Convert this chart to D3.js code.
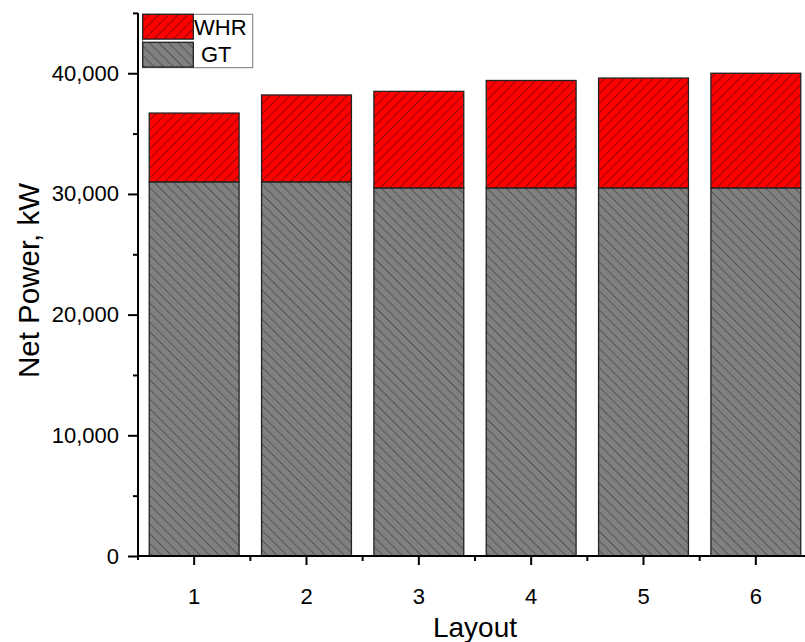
<!DOCTYPE html>
<html>
<head>
<meta charset="utf-8">
<script src="https://cdn.jsdelivr.net/npm/d3@7"></script>
<style>
  html, body { margin: 0; padding: 0; background: #fff; }
  svg { display: block; font-family: "Liberation Sans", Arial, sans-serif; }
</style>
</head>
<body>
<svg id="chart" width="805" height="642"></svg>
<script>
// Net power split per layout: gas turbine (GT) plus waste heat recovery (WHR), kW
const layouts = ["1", "2", "3", "4", "5", "6"];
const gtPower = [31000, 31000, 30500, 30500, 30500, 30500];
const whrPower = [5700, 7200, 8000, 8900, 9100, 9500];
const seriesNames = ["GT", "WHR"];
const yMajorTicks = [0, 10000, 20000, 30000, 40000];
const yMinorTicks = [5000, 15000, 25000, 35000, 45000];

const svg = d3.select("#chart");
const plotLeft = 138, plotRight = 812, plotTop = 12.9, plotBottom = 556;

const x = d3.scaleBand().domain(layouts).range([plotLeft, plotRight])
  .paddingInner(0.2).paddingOuter(0.1);
const y = d3.scaleLinear().domain([0, 45000]).range([plotBottom, plotTop]);

// hatch fills
const defs = svg.append("defs");
function hatch(id, fill, lineColor, dir) {
  const s = 6.8;
  const p = defs.append("pattern").attr("id", id)
    .attr("patternUnits", "userSpaceOnUse")
    .attr("width", s).attr("height", s)
    .attr("patternTransform", `rotate(${dir > 0 ? 45 : -45})`);
  p.append("rect").attr("width", s).attr("height", s).attr("fill", fill);
  p.append("line").attr("x1", 0).attr("y1", 0).attr("x2", 0).attr("y2", s)
    .attr("stroke", lineColor).attr("stroke-width", 0.9);
}
hatch("hatchWHR", "#ff0000", "#111", 1);
hatch("hatchGT", "#808080", "#222", -1);

const stackData = layouts.map((l, i) => ({ layout: l, GT: gtPower[i], WHR: whrPower[i] }));
const stacked = d3.stack().keys(seriesNames)(stackData);
const fills = { GT: "url(#hatchGT)", WHR: "url(#hatchWHR)" };

svg.append("g").selectAll("g").data(stacked).join("g")
  .attr("fill", d => fills[d.key])
  .selectAll("rect").data(d => d).join("rect")
  .attr("x", d => x(d.data.layout))
  .attr("width", x.bandwidth())
  .attr("y", d => y(d[1]))
  .attr("height", d => y(d[0]) - y(d[1]))
  .attr("stroke", "#222")
  .attr("stroke-width", 1.3);

// axes
const axisColor = "#000";
const yAxis = svg.append("g").attr("transform", `translate(${plotLeft},0)`)
  .call(d3.axisLeft(y).tickValues(yMajorTicks).tickFormat(d3.format(","))
    .tickSize(10).tickPadding(9));
yAxis.select(".domain").remove();
yAxis.selectAll("line").attr("stroke", axisColor).attr("stroke-width", 2);
yAxis.selectAll("text").attr("font-size", 22).attr("fill", "#000")
  .attr("font-family", "'Liberation Sans', Arial, sans-serif");

const yMinor = svg.append("g").attr("transform", `translate(${plotLeft},0)`)
  .call(d3.axisLeft(y).tickValues(yMinorTicks).tickFormat("").tickSize(5));
yMinor.select(".domain").remove();
yMinor.selectAll("line").attr("stroke", axisColor).attr("stroke-width", 2);

const xAxis = svg.append("g").attr("transform", `translate(0,${plotBottom})`)
  .call(d3.axisBottom(x).tickSize(9).tickPadding(23));
xAxis.select(".domain").remove();
xAxis.selectAll("line").attr("stroke", axisColor).attr("stroke-width", 2);
xAxis.selectAll("text").attr("font-size", 22).attr("fill", "#000")
  .attr("font-family", "'Liberation Sans', Arial, sans-serif");

// minor ticks on the band boundaries
const step = x.step();
const bounds = d3.range(1, layouts.length).map(i => plotLeft + i * step);
svg.append("g").selectAll("line").data(bounds).join("line")
  .attr("x1", d => d).attr("x2", d => d)
  .attr("y1", plotBottom).attr("y2", plotBottom + 5)
  .attr("stroke", axisColor).attr("stroke-width", 2);

// axis lines
svg.append("line").attr("x1", plotLeft).attr("x2", plotLeft)
  .attr("y1", plotTop).attr("y2", plotBottom + 4)
  .attr("stroke", axisColor).attr("stroke-width", 2);
svg.append("line").attr("x1", plotLeft).attr("x2", plotRight)
  .attr("y1", plotBottom).attr("y2", plotBottom)
  .attr("stroke", axisColor).attr("stroke-width", 2);

// axis titles
svg.append("text").attr("x", (plotLeft + plotRight) / 2).attr("y", 636.5)
  .attr("text-anchor", "middle").attr("font-size", 28).attr("fill", "#000")
  .text("Layout");
svg.append("text")
  .attr("transform", `translate(39,${(plotTop + plotBottom) / 2 - 4}) rotate(-90)`)
  .attr("text-anchor", "middle").attr("font-size", 29.5).attr("fill", "#000")
  .text("Net Power, kW");

// legend
const lg = svg.append("g");
lg.append("rect").attr("x", 142.7).attr("y", 14.3).attr("width", 110).attr("height", 53.4)
  .attr("fill", "#fff").attr("stroke", "#777").attr("stroke-width", 1);
const legendItems = [
  { name: "WHR", fill: fills.WHR, y0: 14.3, tx: 194, base: 35 },
  { name: "GT", fill: fills.GT, y0: 42.3, tx: 201, base: 62.3 }
];
legendItems.forEach(d => {
  lg.append("rect").attr("x", 142.7).attr("y", d.y0).attr("width", 50.6).attr("height", 24.8)
    .attr("fill", d.fill).attr("stroke", "#222").attr("stroke-width", 1.3);
  lg.append("text").attr("x", d.tx).attr("y", d.base).attr("font-size", 22)
    .attr("fill", "#000").text(d.name);
});
</script>
</body>
</html>
